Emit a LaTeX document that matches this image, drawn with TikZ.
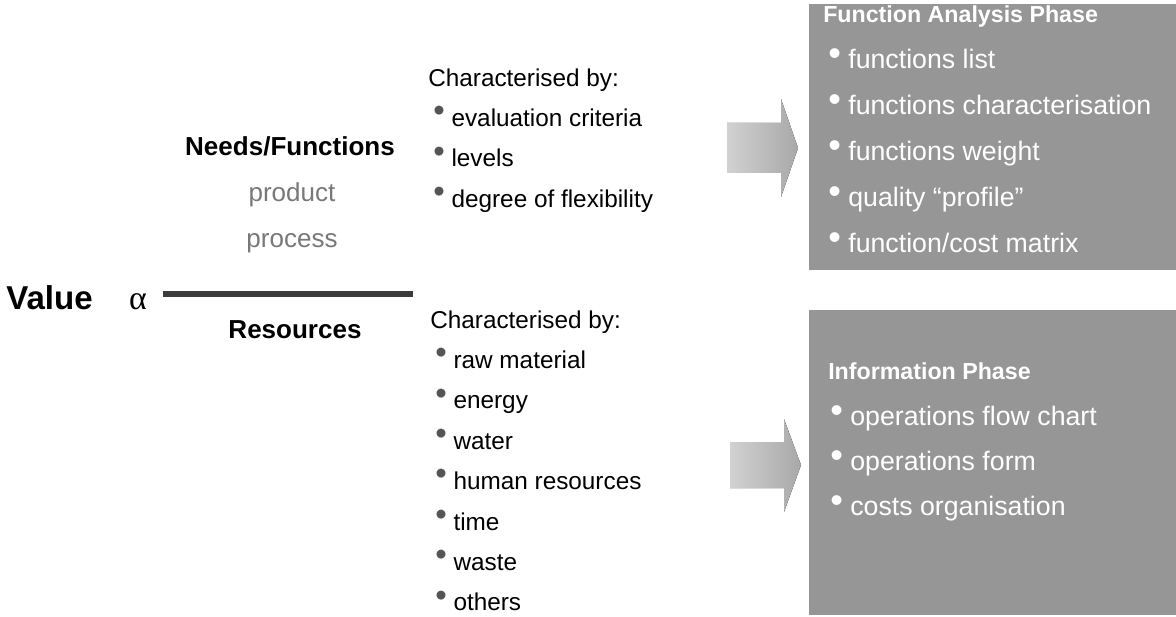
\documentclass[tikz,border=0pt]{standalone}
\usepackage{fontspec}
\setmainfont{Liberation Sans}
\newfontfamily\greekfont{Liberation Serif}
\usepackage{xcolor}
\usepackage{tikz}
\usetikzlibrary{positioning}
\definecolor{phasegray}{RGB}{150,150,150}
\definecolor{bargray}{RGB}{60,60,60}
\definecolor{softgray}{RGB}{120,120,120}
\definecolor{dotgray}{RGB}{85,85,85}
\newcommand{\ldot}{{\color{dotgray}\raisebox{0.2em}{\scalebox{1.35}{\textbullet}}}\ }
\newcommand{\wdot}{\raisebox{0.12em}{\scalebox{1.35}{\textbullet}}\ }

\begin{document}
\begin{tikzpicture}[
    x=0.025cm, y=-0.025cm,
    valuetxt/.style={inner sep=0, font=\bfseries\fontsize{23.5}{28}\selectfont},
    big/.style={inner sep=0, font=\bfseries\fontsize{18.5}{22}\selectfont},
    soft/.style={inner sep=0, text=softgray, font=\fontsize{18.5}{22}\selectfont},
    char/.style={inner sep=0, anchor=west, text height=0.72em, text depth=0.22em, font=\fontsize{17.3}{21}\selectfont},
    phase/.style={rectangle, fill=phasegray, minimum width=9.2cm, anchor=north west, inner sep=0},
    ptitle/.style={inner sep=0, anchor=west, text=white, text height=0.72em, text depth=0.22em, font=\bfseries\fontsize{16.5}{20}\selectfont},
    pitem/.style={ptitle, font=\fontsize{19}{23}\selectfont},
    fatarrow/.style={left color=black!18, right color=black!34},
    fracbar/.style={draw=bargray, line width=3.6pt}
]
\useasboundingbox (0,0) rectangle (1176,617);

% Value ratio
\node[valuetxt, anchor=base west] (value) at (6,309) {Value};
\node[valuetxt, anchor=base, font=\greekfont\fontsize{24}{28}\selectfont] (alpha) at (138,309) {α};
\node[big] (needs) at (290,146) {Needs/Functions};
\node[soft] (product) at (292,195) {product};
\node[soft] (process) at (292,243) {process};
\coordinate (barL) at (163,294);
\coordinate (barR) at (413,294);
\draw[fracbar] (barL) -- (barR);
\node[big] (res) at (295,330) {Resources};

% Needs characterisation
\node[char] (nchar) at (428,83) {Characterised by:};
\node[char] (ncrit) at (433,123) {\ldot evaluation criteria};
\node[char, below=1.01cm of ncrit.west, anchor=west] (nlev) {\ldot levels};
\node[char, below=1.01cm of nlev.west, anchor=west] (nflex) {\ldot degree of flexibility};

% Resources characterisation
\node[char] (rchar) at (430,325) {Characterised by:};
\node[char] (rraw) at (435,365) {\ldot raw material};
\node[char, below=1.01cm of rraw.west, anchor=west] (renergy) {\ldot energy};
\node[char, below=1.01cm of renergy.west, anchor=west] (rwater) {\ldot water};
\node[char, below=1.01cm of rwater.west, anchor=west] (rhuman) {\ldot human resources};
\node[char, below=1.01cm of rhuman.west, anchor=west] (rtime) {\ldot time};
\node[char, below=1.01cm of rtime.west, anchor=west] (rwaste) {\ldot waste};
\node[char, below=1.01cm of rwaste.west, anchor=west] (rothers) {\ldot others};

% Arrows
\fill[fatarrow] (727,123) -- (781,123) -- (781,99) -- (798,148) -- (781,197) -- (781,173) -- (727,173) -- cycle;
\fill[fatarrow] (730,442) -- (784,442) -- (784,419) -- (801,465) -- (784,512) -- (784,488) -- (730,488) -- cycle;

% Function Analysis Phase
\node[phase, minimum height=6.65cm] (fap) at (809,4) {};
\node[ptitle] (faptitle) at (823,19) {Function Analysis Phase};
\node[pitem] (falist) at (828,65) {\wdot functions list};
\node[pitem, below=1.15cm of falist.west, anchor=west] (fachar) {\wdot functions characterisation};
\node[pitem, below=1.15cm of fachar.west, anchor=west] (faweight) {\wdot functions weight};
\node[pitem, below=1.15cm of faweight.west, anchor=west] (faprof) {\wdot quality “profile”};
\node[pitem, below=1.15cm of faprof.west, anchor=west] (famatrix) {\wdot function/cost matrix};

% Information Phase
\node[phase, minimum height=7.625cm] (inf) at (809,310) {};
\node[ptitle] (inftitle) at (828,376) {Information Phase};
\node[pitem] (inflow) at (830,422) {\wdot operations flow chart};
\node[pitem, below=1.13cm of inflow.west, anchor=west] (inform) {\wdot operations form};
\node[pitem, below=1.13cm of inform.west, anchor=west] (incost) {\wdot costs organisation};

\end{tikzpicture}
\end{document}
